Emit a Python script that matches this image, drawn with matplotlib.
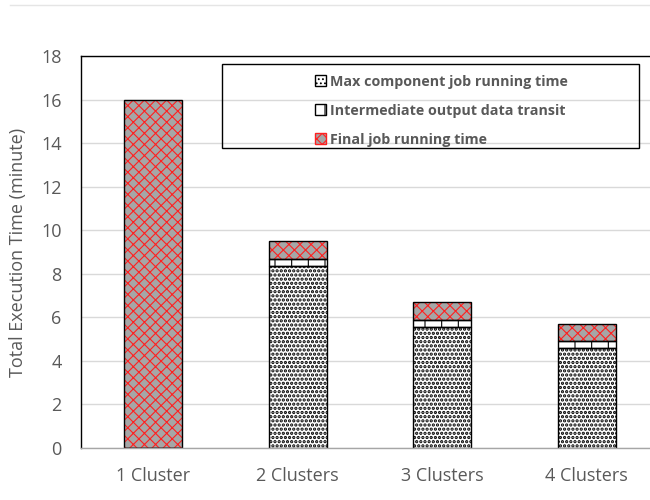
import matplotlib
matplotlib.use('agg')
import matplotlib.pyplot as plt
from matplotlib.patches import Patch, Rectangle
from matplotlib.lines import Line2D
import numpy as np

plt.rcParams['font.family'] = ['Open Sans', 'DejaVu Sans']
plt.rcParams['hatch.linewidth'] = 1.6

categories = ['1 Cluster', '2 Clusters', '3 Clusters', '4 Clusters']
max_component = [0.0, 8.35, 5.57, 4.6]
transit = [0.0, 0.33, 0.31, 0.3]
final_job = [16.0, 0.82, 0.81, 0.78]
yticks = list(range(0, 19, 2))

text_grey = '#595959'

fig = plt.figure(figsize=(6.5, 5), dpi=100)
ax = fig.add_axes([81 / 650, 52 / 500, 578 / 650, 392 / 500])

x = np.arange(len(categories))
w = 0.4
bottom2 = np.array(max_component)
bottom3 = bottom2 + np.array(transit)

# max component job: black dots on white
ax.bar(x, max_component, w, color='white', edgecolor='black', hatch='....', linewidth=0)
plt.rcParams['hatch.linewidth'] = 0.8
ax.bar(x, transit, w, bottom=bottom2, color='white', edgecolor='black', hatch='|', linewidth=0)
ax.bar(x, final_job, w, bottom=bottom3, color='#A6A6A6', edgecolor='#FF2020', hatch='xxx', linewidth=0)

# outlines on top of the hatches
for vals, bot in [(max_component, 0), (transit, bottom2), (final_job, bottom3)]:
    ax.bar(x, vals, w, bottom=bot, fill=False, edgecolor='black', linewidth=1.0)

ax.set_xlim(-0.5, 3.5)
ax.set_ylim(0, 18)
ax.set_yticks(yticks)
ax.set_xticks(x)
ax.set_xticklabels(categories)
ax.tick_params(axis='both', length=0, labelsize=13, colors=text_grey)
ax.tick_params(axis='x', pad=14)
ax.tick_params(axis='y', pad=14)
ax.yaxis.grid(True, color='#D9D9D9', linewidth=1)
ax.set_axisbelow(True)
ax.set_ylabel('Total Execution Time (minute)', fontsize=13, color=text_grey, labelpad=10)

for s in ['top', 'left', 'right']:
    ax.spines[s].set_color('black')
    ax.spines[s].set_linewidth(1)
ax.spines['bottom'].set_color('#A6A6A6')
ax.spines['bottom'].set_linewidth(1)

# legend box
box = Rectangle((0.244, 0.765), 0.721, 0.214, transform=ax.transAxes,
                fill=False, edgecolor='black', linewidth=1, zorder=5)
ax.add_patch(box)
handles = [
    Patch(facecolor='white', edgecolor='black', hatch='....', label='Max component job running time'),
    Patch(facecolor='white', edgecolor='black', hatch='|', label='Intermediate output data transit'),
    Patch(facecolor='#A6A6A6', edgecolor='#FF2020', hatch='xxx', label='Final job running time'),
]
leg = ax.legend(handles=handles, loc='upper left', bbox_to_anchor=(0.382, 0.985),
                frameon=False, handlelength=0.8, handleheight=0.8, handletextpad=0.3,
                labelspacing=1.05, prop={'weight': 'bold', 'size': 10.3})
for t in leg.get_texts():
    t.set_color(text_grey)

fig.add_artist(Line2D([10 / 650, 1], [495 / 500, 495 / 500], color='#E5E5E5', linewidth=1))

fig.savefig('out.png', dpi=100)
plt.close()
